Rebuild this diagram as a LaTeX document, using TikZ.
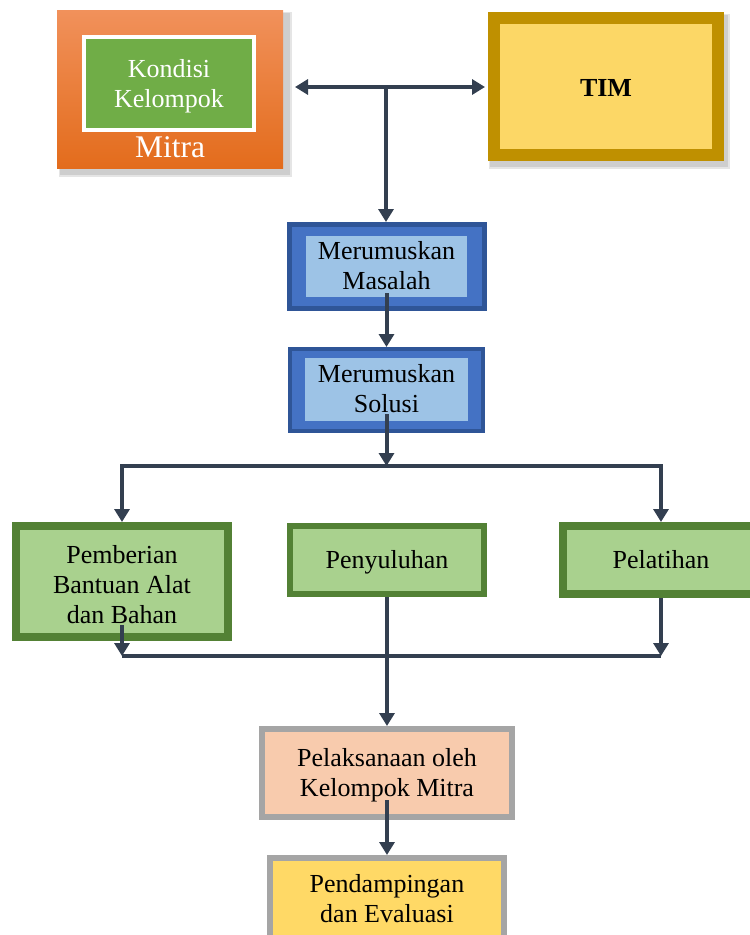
\documentclass[tikz,border=0pt]{standalone}
\usepackage{fontspec}
\setmainfont{Liberation Serif}
\usetikzlibrary{arrows.meta,calc}
\definecolor{orTop}{HTML}{F1915B}
\definecolor{orBot}{HTML}{E36C1C}
\definecolor{grn}{HTML}{70AD47}
\definecolor{timB}{HTML}{BF9000}
\definecolor{timF}{HTML}{FCD766}
\definecolor{bluD}{HTML}{2F5597}
\definecolor{bluM}{HTML}{4472C4}
\definecolor{bluL}{HTML}{9DC3E6}
\definecolor{gD}{HTML}{538135}
\definecolor{gL}{HTML}{A9D18E}
\definecolor{grayB}{HTML}{A5A5A5}
\definecolor{peach}{HTML}{F8CBAD}
\definecolor{yel}{HTML}{FFD966}
\definecolor{arrowc}{HTML}{333F50}
\tikzset{
  Tri/.tip={Triangle[width=15pt,length=13pt]},
  box/.style={rectangle, inner sep=0pt, outer sep=auto},
  lbl/.style={font=\fontsize{26}{30}\selectfont, align=center, inner sep=0pt, outer sep=0pt},
  conn/.style={line width=4pt, draw=arrowc, -Tri},
  plainline/.style={line width=4pt, draw=arrowc},
  shadowbox/.style={fill=black, opacity=0.10}
}
\begin{document}
\begin{tikzpicture}[x=1pt,y=-1pt]
\useasboundingbox (0,0) rectangle (750,935);

% Mitra
\coordinate (mitrac) at (170,89);
\fill[shadowbox] ($(mitrac)+(-110,-76)$) rectangle ($(mitrac)+(120,86)$);
\fill[shadowbox] ($(mitrac)+(-111,-77)$) rectangle ($(mitrac)+(122,88)$);
\node[box, minimum width=226pt, minimum height=158pt, top color=orTop, bottom color=orBot] (mitra) at (mitrac) {};
\node[box, draw=white, line width=4pt, fill=grn, minimum width=170pt, minimum height=92.5pt] (kondbox) at (169,83.3) {};
\node[lbl, text=white] (kond) at (169,86.4) {Kondisi\\Kelompok};
\node[lbl, text=white, font=\fontsize{31.5}{36}\selectfont, anchor=base] (mitralbl) at (170,157) {Mitra};

% TIM
\coordinate (timc) at (606,86.5);
\fill[shadowbox] ($(timc)+(-116,-72)$) rectangle ($(timc)+(122,80)$);
\fill[shadowbox] ($(timc)+(-117,-73)$) rectangle ($(timc)+(124,82)$);
\node[box, draw=timB, line width=12pt, fill=timF, minimum width=224pt, minimum height=137pt] (tim) at (timc) {};
\node[lbl, font=\fontsize{26}{30}\selectfont\bfseries, anchor=base] (timlbl) at (606,96.7) {TIM};

% Merumuskan Masalah
\node[box, draw=bluD, line width=5pt, fill=bluM, minimum width=195pt, minimum height=84pt] (masalah) at (387,266.5) {};
\node[box, fill=bluL, minimum width=161pt, minimum height=61pt] (masalahin) at (386.5,266.5) {};
\node[lbl] (masalahlbl) at (386.5,266.1) {Merumuskan\\Masalah};

% Merumuskan Solusi
\node[box, draw=bluD, line width=4pt, fill=bluM, minimum width=193pt, minimum height=82pt] (solusi) at (386.5,390) {};
\node[box, fill=bluL, minimum width=163pt, minimum height=63pt] (solusiin) at (386.5,389.5) {};
\node[lbl] (solusilbl) at (386.5,388.9) {Merumuskan\\Solusi};

% Three activities
\node[box, draw=gD, line width=8pt, fill=gL, minimum width=212pt, minimum height=111pt] (pemb) at (122,581.5) {};
\node[lbl] (pemblbl) at (122,584.1) {Pemberian\\Bantuan Alat\\dan Bahan};

\node[box, draw=gD, line width=6pt, fill=gL, minimum width=194pt, minimum height=68pt] (peny) at (387,560) {};
\node[lbl, anchor=base] (penylbl) at (387,568.3) {Penyuluhan};

\node[box, draw=gD, line width=8pt, fill=gL, minimum width=196pt, minimum height=68pt] (pela) at (661,560) {};
\node[lbl, anchor=base] (pelalbl) at (661,568.3) {Pelatihan};

% Pelaksanaan
\node[box, draw=grayB, line width=6pt, fill=peach, minimum width=250pt, minimum height=88pt] (pelak) at (387,773) {};
\node[lbl] (pelaklbl) at (387,775.1) {Pelaksanaan oleh\\Kelompok Mitra};

% Pendampingan
\node[box, draw=grayB, line width=6pt, fill=yel, minimum width=234pt, minimum height=99pt] (pend) at (387,907.5) {};
\node[lbl] (pendlbl) at (387,898.5) {Pendampingan\\dan Evaluasi};

% Connectors
\coordinate (jl) at (295,87);
\coordinate (jr) at (485,87);
\coordinate (jm) at (386,87);
\draw[plainline, Tri-Tri] (jl) -- (jr);
\draw[conn] (jm) -- (jm |- masalah.north);
\draw[conn] ([yshift=4pt]masalahin.south) -- (solusi.north);
\coordinate (js) at (386.5,466);
\draw[conn] ([yshift=7pt]solusiin.south) -- (js);
\draw[conn] (js) -- (js -| pemb.north) -- (pemb.north);
\draw[conn] (js) -- (js -| pela.north) -- (pela.north);
\coordinate (jb) at (387,656);
\draw[plainline] (jb -| pemb.south) -- (jb -| pela.south);
\draw[conn] ([yshift=16pt]pemb.south) -- (jb -| pemb.south);
\draw[conn] (pela.south) -- (jb -| pela.south);
\draw[conn] (peny.south) -- (pelak.north);
\draw[conn] ([yshift=20pt]pelak.south) -- (pend.north);
\end{tikzpicture}
\end{document}
